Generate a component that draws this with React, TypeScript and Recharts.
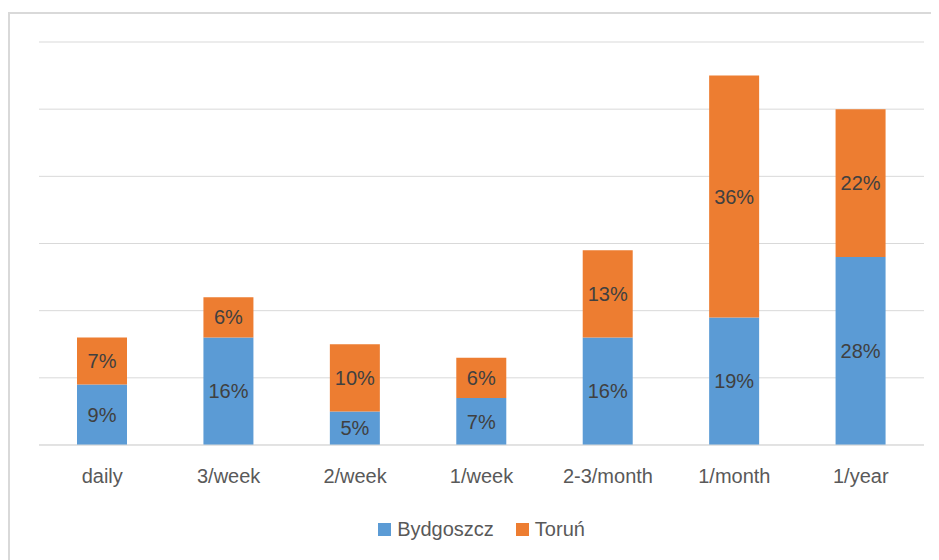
import { BarChart, Bar, XAxis, YAxis, CartesianGrid, Legend, LabelList } from "recharts";

// Frequency categories on the x axis
const categories = ["daily", "3/week", "2/week", "1/week", "2-3/month", "1/month", "1/year"];
// Share of respondents (%)
const bydgoszcz = [9, 16, 5, 7, 16, 19, 28];
const torun = [7, 6, 10, 6, 13, 36, 22];
const yTicks = [0, 10, 20, 30, 40, 50, 60];

const data = categories.map((name, i) => ({
  name,
  Bydgoszcz: bydgoszcz[i],
  Toruń: torun[i],
}));

const FONT = "'Liberation Sans', Arial, sans-serif";
const BLUE = "#5B9BD5";
const ORANGE = "#ED7D31";
const GRID = "#D9D9D9";

// Legend drawn as html so spacing can follow the original
const renderLegend = () => (
  <div style={{ display: "flex", justifyContent: "center", fontFamily: FONT, fontSize: 20, color: "#595959" }}>
    {[
      { label: "Bydgoszcz", color: BLUE },
      { label: "Toruń", color: ORANGE },
    ].map((item) => (
      <div key={item.label} style={{ display: "flex", alignItems: "center", margin: "0 11px" }}>
        <span style={{ width: 13, height: 13, background: item.color, marginRight: 6, display: "inline-block" }} />
        <span>{item.label}</span>
      </div>
    ))}
  </div>
);

export default function App() {
  return (
    <div style={{ width: 931, height: 548, marginTop: 4, overflow: "hidden" }}>
      <div style={{ borderLeft: `2px solid ${GRID}`, borderTop: `2px solid ${GRID}`, width: 960, height: 600, boxSizing: "border-box" }}>
        <BarChart
          width={929}
          height={546}
          data={data}
          margin={{ top: 28, right: 15, left: 29, bottom: 0 }}
        >
          <CartesianGrid vertical={false} stroke={GRID} />
          <YAxis hide domain={[0, 60]} ticks={yTicks} />
          <XAxis
            dataKey="name"
            axisLine={{ stroke: GRID }}
            tickLine={false}
            tickMargin={18}
            height={92}
            tick={{ fill: "#595959", fontSize: 20, fontFamily: FONT }}
          />
          <Legend content={renderLegend} verticalAlign="bottom" wrapperStyle={{ bottom: 19 }} />
          <Bar dataKey="Bydgoszcz" stackId="a" fill={BLUE} barSize={50} isAnimationActive={false}>
            <LabelList
              dataKey="Bydgoszcz"
              position="center"
              formatter={(v: number) => `${v}%`}
              style={{ fill: "#404040", fontSize: 20, fontFamily: FONT }}
            />
          </Bar>
          <Bar dataKey="Toruń" stackId="a" fill={ORANGE} barSize={50} isAnimationActive={false}>
            <LabelList
              dataKey="Toruń"
              position="center"
              formatter={(v: number) => `${v}%`}
              style={{ fill: "#404040", fontSize: 20, fontFamily: FONT }}
            />
          </Bar>
        </BarChart>
      </div>
    </div>
  );
}
